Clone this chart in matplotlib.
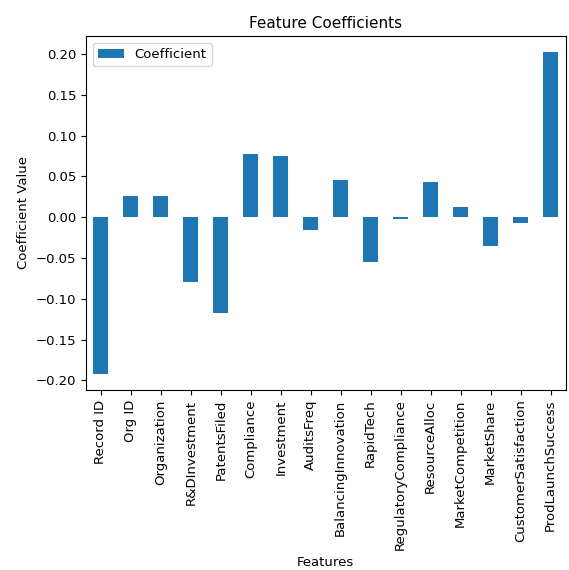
import numpy as np
import pandas as pd
import matplotlib
matplotlib.use("Agg")
import matplotlib.pyplot as plt

# feature names and fitted coefficients
features = ["Record ID", "Org ID", "Organization", "R&DInvestment", "PatentsFiled",
            "Compliance", "Investment", "AuditsFreq", "BalancingInnovation", "RapidTech",
            "RegulatoryCompliance", "ResourceAlloc", "MarketCompetition", "MarketShare",
            "CustomerSatisfaction", "ProdLaunchSuccess"]
coefficients = [-0.192, 0.026, 0.026, -0.080, -0.117,
                0.078, 0.0755, -0.016, 0.045, -0.055,
                -0.002, 0.0437, 0.013, -0.035, -0.0076, 0.2025]

df = pd.DataFrame({"Coefficient": coefficients}, index=features)

plt.rcParams["font.size"] = 9.5
fig = plt.figure(figsize=(5.69, 5.70), dpi=100)
ax = fig.add_axes([0.151, 0.316, 0.843, 0.621])

df.plot(kind="bar", ax=ax, color="#1f77b4")
ax.set_title("Feature Coefficients", fontsize=11)
ax.set_xlabel("Features")
ax.set_ylabel("Coefficient Value")
ax.legend(loc="upper left")

fig.savefig("out.png", dpi=100)
